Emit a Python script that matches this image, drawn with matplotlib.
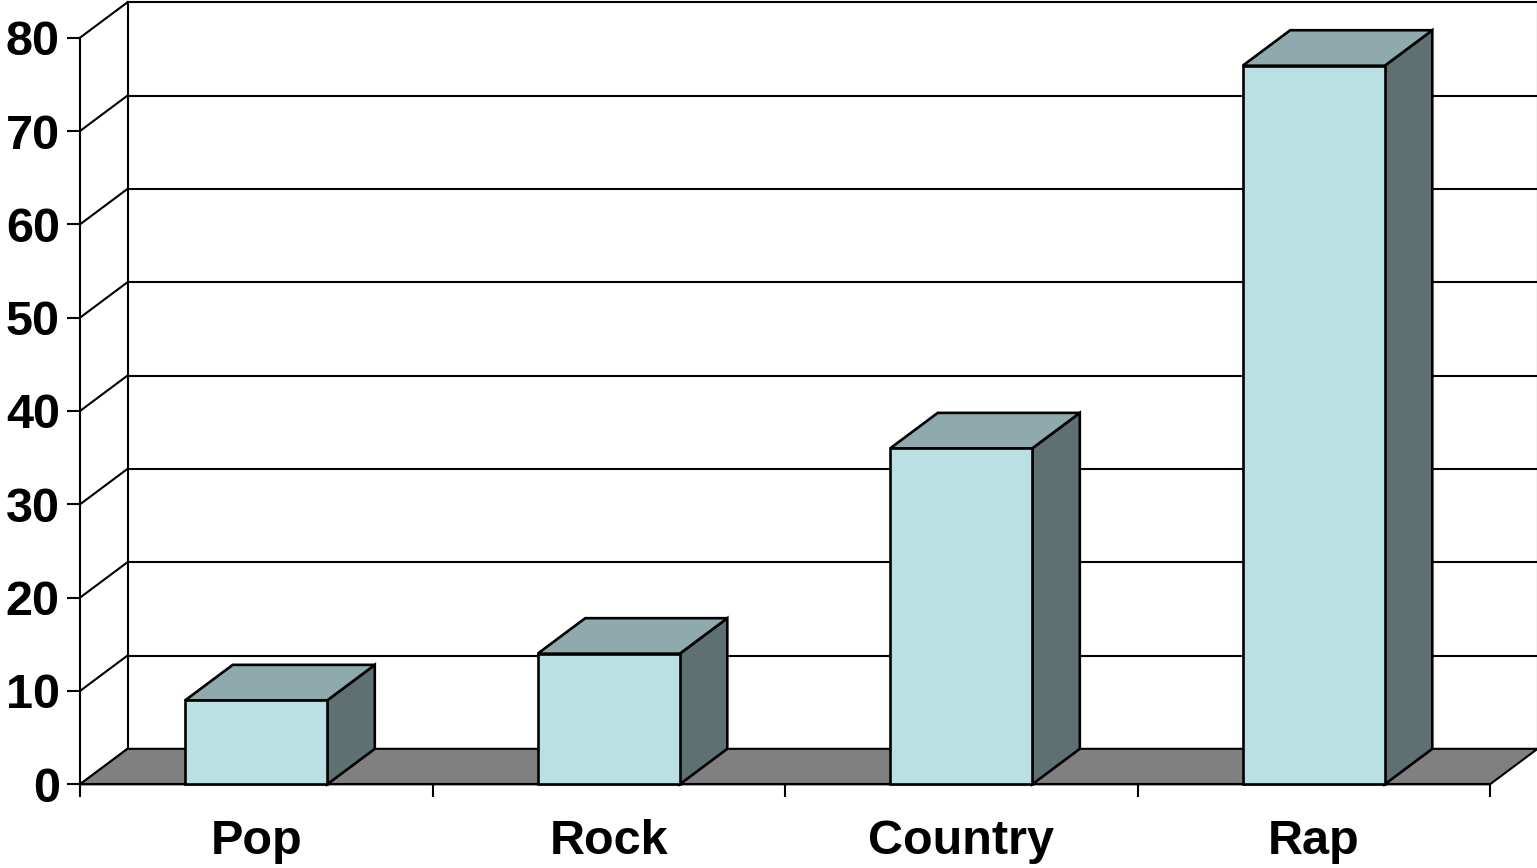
import matplotlib
matplotlib.use('Agg')
import matplotlib.pyplot as plt
from matplotlib.patches import Polygon

# survey results by genre
genres = ['Pop', 'Rock', 'Country', 'Rap']
counts = [9, 14, 36, 77]
yticks = [0, 10, 20, 30, 40, 50, 60, 70, 80]

# pseudo-3D depth offset in data units
dx = 0.1348
dy = 3.80
w = 0.403

front_c = '#BBE0E3'
top_c = '#8FAAAC'
side_c = '#5F7073'
floor_c = '#808080'

plt.rcParams['font.family'] = ['Liberation Sans', 'DejaVu Sans']
plt.rcParams['font.weight'] = 'bold'

fig = plt.figure(figsize=(15.37, 8.68), dpi=100)
ax = fig.add_axes([80/1537, (868-784.3)/868, (1490-80)/1537, (784.3-37.7)/868])
ax.set_xlim(-0.5, 3.5)
ax.set_ylim(0, 80)

lw = 1.5
blw = 1.9
x0, x1 = -0.5, 3.5
# back wall grid and side wall diagonals
for v in yticks:
    ax.plot([x0+dx, x1+dx], [v+dy, v+dy], color='black', lw=lw, clip_on=False, zorder=1)
    ax.plot([x0, x0+dx], [v, v+dy], color='black', lw=lw, clip_on=False, zorder=1)
ax.plot([x0+dx, x0+dx], [dy, 80+dy], color='black', lw=lw, clip_on=False, zorder=1)
ax.plot([x1+dx, x1+dx], [dy, 80+dy], color='black', lw=lw, clip_on=False, zorder=1)

# floor
ax.add_patch(Polygon([(x0, 0), (x1, 0), (x1+dx, dy), (x0+dx, dy)], closed=True,
                     facecolor=floor_c, edgecolor='black', lw=lw, clip_on=False, zorder=2))

# bars
for i, v in enumerate(counts):
    l, r = i - w/2, i + w/2
    ax.add_patch(Polygon([(r, 0), (r+dx, dy), (r+dx, v+dy), (r, v)], closed=True,
                         facecolor=side_c, edgecolor='black', lw=blw, clip_on=False, zorder=3))
    ax.add_patch(Polygon([(l, v), (r, v), (r+dx, v+dy), (l+dx, v+dy)], closed=True,
                         facecolor=top_c, edgecolor='black', lw=blw, clip_on=False, zorder=3))
    ax.add_patch(Polygon([(l, 0), (r, 0), (r, v), (l, v)], closed=True,
                         facecolor=front_c, edgecolor='black', lw=blw, clip_on=False, zorder=4))

for s in ['top', 'right']:
    ax.spines[s].set_visible(False)
ax.spines['left'].set_linewidth(lw)
ax.spines['bottom'].set_linewidth(lw)
ax.spines['left'].set_zorder(5)

ax.set_yticks(yticks)
ax.set_yticklabels([str(t) for t in yticks], fontsize=35, fontweight='bold')
ax.tick_params(axis='y', direction='out', length=9.5, width=lw, pad=5)

ax.set_xticks([-0.5, 0.5, 1.5, 2.5, 3.5])
ax.set_xticklabels([])
ax.tick_params(axis='x', which='major', direction='out', length=9, width=lw)
ax.set_xticks(range(len(genres)), minor=True)
ax.set_xticklabels(genres, minor=True, fontsize=35, fontweight='bold')
ax.tick_params(axis='x', which='minor', length=0, pad=25)

ax.patch.set_alpha(0)
fig.savefig('out.png', dpi=100)
